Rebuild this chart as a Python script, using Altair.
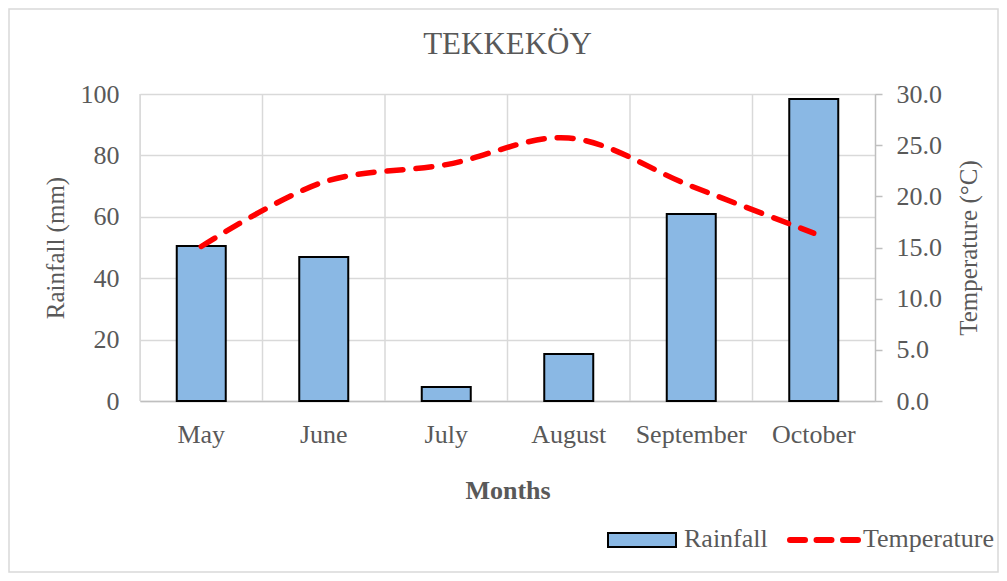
import altair as alt
import pandas as pd

months = ["May", "June", "July", "August", "September", "October"]
rainfall = [50.5, 46.9, 4.6, 15.3, 60.9, 98.4]
temperature = [15.1, 21.4, 23.1, 25.7, 21.0, 16.4]

df = pd.DataFrame({"Month": months, "Rainfall": rainfall, "Temperature": temperature})
one = pd.DataFrame({"k": [0]})

FONT = "Liberation Serif"
TXT = "#595959"
W, H = 735, 307
FS = 26

def xscale():
    return alt.Scale(type="band", domain=months, paddingInner=0, paddingOuter=0)

x_enc = alt.X("Month:N", sort=months, scale=xscale(),
              axis=alt.Axis(labelAngle=0, ticks=False, tickSize=0, grid=False,
                            domainColor="#bfbfbf", domainWidth=1.5,
                            labelFont=FONT, labelFontSize=FS, labelColor=TXT,
                            labelPadding=41, labelBaseline="alphabetic", labelAlign="center",
                            title="Months", titleFont=FONT, titleFontSize=26,
                            titleFontWeight="bold", titleColor=TXT,
                            titleY=97, titleBaseline="alphabetic"))

base = alt.Chart(df)

vgrid = base.mark_rule(color="#d9d9d9", strokeWidth=1.5).encode(
    x=alt.X("Month:N", sort=months, bandPosition=0, scale=xscale(), axis=None)
)

bars = base.mark_bar(width={"band": 0.4}, fill="#8ab8e4", stroke="#000000", strokeWidth=2).encode(
    x=x_enc,
    y=alt.Y("Rainfall:Q", scale=alt.Scale(domain=[0, 100], nice=False),
            axis=alt.Axis(values=[0, 20, 40, 60, 80, 100], ticks=False, domain=False,
                          grid=True, gridColor="#d9d9d9", gridWidth=1.5,
                          labelFont=FONT, labelFontSize=FS, labelColor=TXT, labelPadding=21,
                          title="Rainfall (mm)", titleFont=FONT, titleFontSize=25,
                          titleFontWeight="normal", titleColor=TXT,
                          titleX=-85, titleY=H / 2, titleAngle=270,
                          titleAlign="center", titleBaseline="middle")),
)

line = base.mark_line(color="#ff0000", strokeWidth=5.5, strokeDash=[16, 13], strokeCap="round",
                      interpolate="catmull-rom").encode(
    x=alt.X("Month:N", sort=months, scale=xscale(), axis=None),
    y=alt.Y("Temperature:Q", scale=alt.Scale(domain=[0, 30], nice=False),
            axis=alt.Axis(orient="right", values=[0, 5, 10, 15, 20, 25, 30], format=".1f",
                          tickSize=7, tickColor="#bfbfbf", tickWidth=1.5,
                          domainColor="#bfbfbf", domainWidth=1.5, grid=False,
                          labelFont=FONT, labelFontSize=FS, labelColor=TXT, labelPadding=14,
                          title="Temperature (°C)", titleFont=FONT, titleFontSize=25,
                          titleFontWeight="normal", titleColor=TXT,
                          titleX=93, titleY=H / 2, titleAngle=270,
                          titleAlign="center", titleBaseline="middle")),
)

ob = alt.Chart(one)
border = ob.mark_rect(fill="transparent", stroke="#d9d9d9", strokeWidth=1.5).encode(
    x=alt.value(-131), x2=alt.value(858), y=alt.value(-85), y2=alt.value(478)
)
title = ob.mark_text(text="TEKKEKÖY", font=FONT, fontSize=31, color=TXT,
                     align="center", baseline="alphabetic").encode(
    x=alt.value(W / 2), y=alt.value(-40)
)
leg_rect = ob.mark_rect(fill="#8ab8e4", stroke="#000000", strokeWidth=2).encode(
    x=alt.value(468), x2=alt.value(536), y=alt.value(439), y2=alt.value(453)
)
leg_rain = ob.mark_text(text="Rainfall", font=FONT, fontSize=FS, color=TXT,
                        align="left", baseline="alphabetic").encode(
    x=alt.value(544), y=alt.value(453)
)
leg_line = ob.mark_rule(color="#ff0000", strokeWidth=6, strokeDash=[15, 11.5], strokeCap="round").encode(
    x=alt.value(650), x2=alt.value(718), y=alt.value(446)
)
leg_temp = ob.mark_text(text="Temperature", font=FONT, fontSize=FS, color=TXT,
                        align="left", baseline="alphabetic").encode(
    x=alt.value(723), y=alt.value(453)
)

chart = alt.layer(border, title, vgrid, bars, line, leg_rect, leg_rain, leg_line, leg_temp).resolve_scale(
    x="independent", y="independent"
).properties(
    width=W, height=H,
    autosize=alt.AutoSizeParams(type="none"),
    padding={"left": 132, "top": 86, "right": 124, "bottom": 172},
).configure_view(stroke=None).configure(background="white")

chart.save("out.html", embed_options={"renderer": "svg", "actions": False})
